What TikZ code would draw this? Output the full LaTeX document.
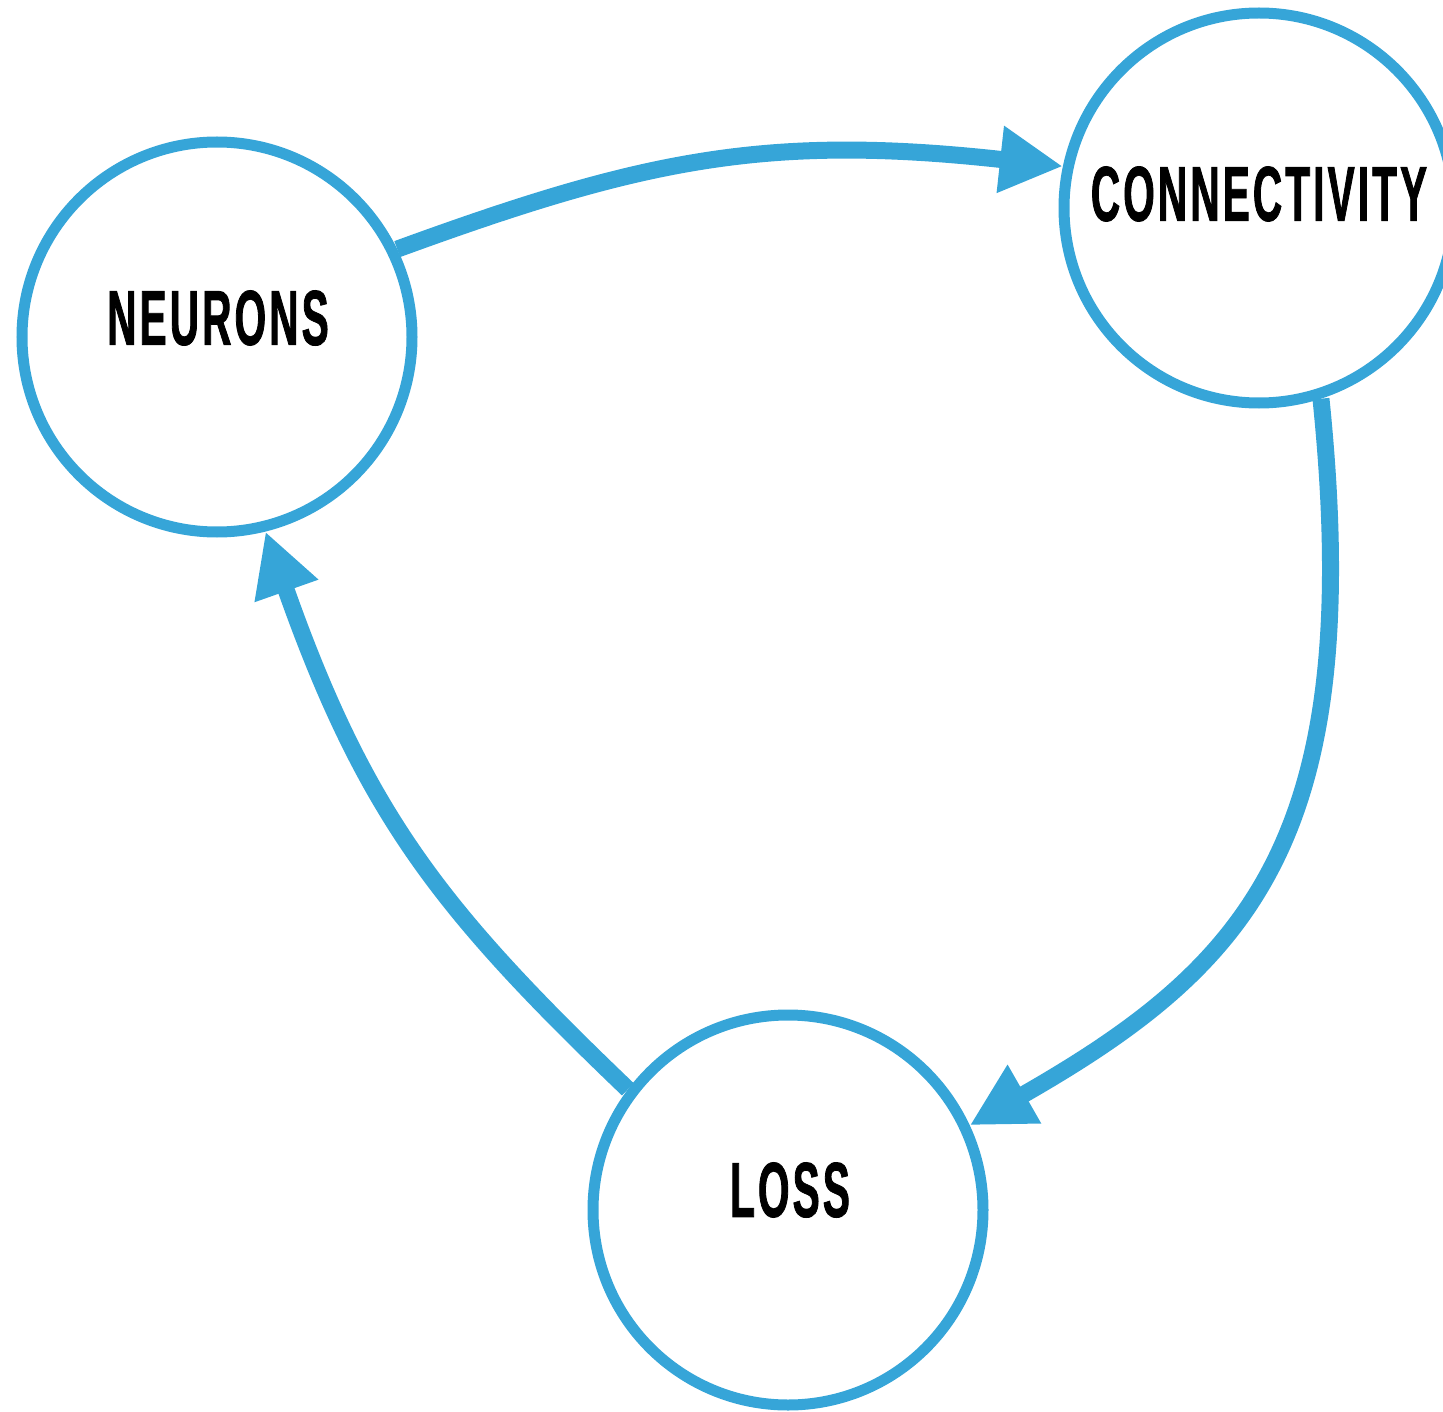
\documentclass[tikz,border=0pt]{standalone}
\usepackage{fontspec}
\newfontfamily\lblfont{Liberation Sans}[FakeStretch=0.52,FakeBold=1,LetterSpace=4]
\usetikzlibrary{arrows.meta}
\definecolor{cycleblue}{RGB}{54,165,216}
\tikzset{
  stage/.style={circle, draw=cycleblue, line width=11pt, minimum size=390pt, inner sep=0pt},
  stagelabel/.style={font=\lblfont\bfseries\fontsize{78}{78}\selectfont, text=black, inner sep=0pt},
  flow/.style={draw=cycleblue, line width=17pt, -{Triangle[length=63pt,width=63pt]}},
}
\begin{document}
\begin{tikzpicture}[x=1pt,y=-1pt]
\useasboundingbox (0,0) rectangle (1443,1412);
% the three stages of the loop
\node[stage] (neurons) at (217,337) {};
\node[stage] (conn) at (1259,208) {};
\node[stage] (loss) at (788,1210) {};
\node[stagelabel] (neuronsText) at (218,318) {NEURONS};
\node[stagelabel] (connText) at (1259,194) {CONNECTIVITY};
\node[stagelabel] (lossText) at (790,1190) {LOSS};
% curved arrows closing the cycle
\draw[flow] (neurons.26) .. controls +(244,-89) and +(-298,-33) .. (conn.168);
\draw[flow] (conn.-72) .. controls +(45,440) and +(280,-160) .. (loss.25);
\draw[flow] (loss.143) .. controls +(-187,-179) and +(100,283) .. (neurons.-76);
\end{tikzpicture}
\end{document}
